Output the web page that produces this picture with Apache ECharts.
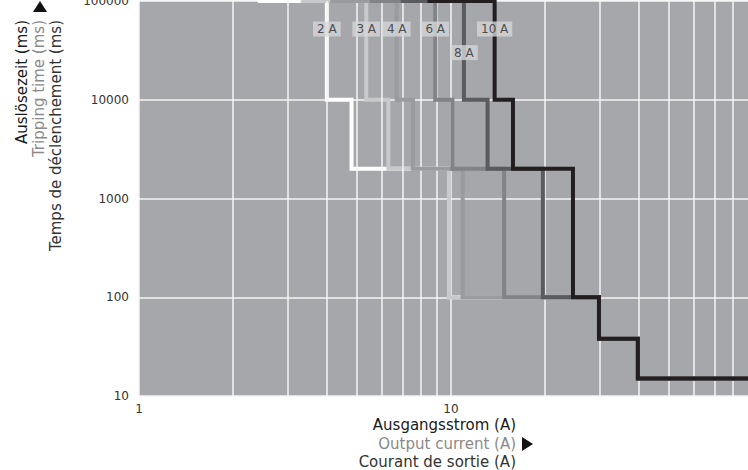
<!DOCTYPE html>
<html><head><meta charset="utf-8">
<script src="https://cdn.jsdelivr.net/npm/echarts@6/dist/echarts.min.js"></script>
<style>html,body{margin:0;padding:0;background:#fff}#c{width:748px;height:470px}</style>
</head><body><div id="c"></div>
<script>
// ---- data ----
const ratings = ['2 A', '3 A', '4 A', '6 A', '8 A', '10 A'];
const lineColors = ['#ffffff', '#c8c9cb', '#9a9b9e', '#828386', '#5a5b5e', '#231f20'];
const startCurrent = [2.4, 3.3, 4.1, 5.5, 6.9, 8.4];     // A, where each curve enters at 100000 ms
const drop100s = [4.0, 5.35, 6.7, 8.9, 11.0, 13.8];      // A, step 100000 ms -> 10000 ms
const drop10s = [4.8, 6.3, 7.55, 10.1, 13.1, 15.8];      // A, step 10000 ms -> 2000 ms
const drop2s = [9.85, 9.85, 10.9, 14.8, 19.7, 24.6];     // A, step 2000 ms -> 100 ms
const drop100ms = [29.8, 29.8, 29.8, 29.8, 29.8, 29.8];  // A, step 100 ms -> 38 ms
const drop38ms = [39.7, 39.7, 39.7, 39.7, 39.7, 39.7];   // A, step 38 ms -> 15 ms
const endCurrent = 100;
const timeLevels = [100000, 10000, 2000, 100, 38, 15];   // ms
const labelTime = [52000, 52000, 52000, 52000, 30000, 52000];
const minorGrid = [2, 3, 4, 5, 6, 7, 8, 9, 20, 30, 40, 50, 60, 70, 80, 90];

const FONT = 'DejaVu Sans';

const curveSeries = ratings.map((name, i) => ({
  type: 'line',
  name: name,
  step: 'end',
  symbol: 'none',
  z: 3 + i,
  lineStyle: { color: lineColors[i], width: 4, join: 'miter', cap: 'butt' },
  data: [
    [startCurrent[i], timeLevels[0]],
    [drop100s[i], timeLevels[1]],
    [drop10s[i], timeLevels[2]],
    [drop2s[i], timeLevels[3]],
    [drop100ms[i], timeLevels[4]],
    [drop38ms[i], timeLevels[5]],
    [endCurrent, timeLevels[5]]
  ]
}));

const chart = echarts.init(document.getElementById('c'), null, { renderer: 'svg' });
chart.setOption({
  animation: false,
  backgroundColor: '#ffffff',
  grid: { left: 139, top: 1, width: 624, height: 395, outerBoundsMode: 'none', containLabel: false, show: true, backgroundColor: '#a6a7aa', borderWidth: 0 },
  xAxis: {
    type: 'log', logBase: 10, min: 1, max: 100,
    axisLine: { show: false }, axisTick: { show: false },
    axisLabel: { color: '#333', fontFamily: FONT, fontSize: 12, margin: 7, formatter: v => String(v) },
    splitLine: { show: true, lineStyle: { color: '#f4f4f4', width: 1.5 } }
  },
  yAxis: {
    type: 'log', logBase: 10, min: 10, max: 100000,
    axisLine: { show: false }, axisTick: { show: false },
    axisLabel: { color: '#333', fontFamily: FONT, fontSize: 12, margin: 10, formatter: v => String(v) },
    splitLine: { show: true, lineStyle: { color: '#f4f4f4', width: 1.5 } }
  },
  series: [
    {
      type: 'line', data: [], z: 1, silent: true,
      markLine: {
        silent: true, symbol: 'none', animation: false,
        label: { show: false },
        lineStyle: { color: '#f4f4f4', width: 1.5, type: 'solid' },
        data: minorGrid.map(v => ({ xAxis: v }))
      }
    },
    ...curveSeries,
    {
      type: 'scatter', z: 20, symbolSize: 2, silent: true,
      itemStyle: { color: 'rgba(0,0,0,0)' },
      data: ratings.map((r, i) => [drop100s[i], labelTime[i], r]),
      label: {
        show: true, position: 'inside', formatter: p => p.data[2],
        color: '#2a2a2a', fontFamily: FONT, fontSize: 12,
        backgroundColor: '#d5d6d8', padding: [2, 4, 1, 4]
      },
      labelLayout: { hideOverlap: false }
    }
  ],
  graphic: [
    { type: 'polygon', shape: { points: [[40, 1], [47, 12], [33, 12]] }, style: { fill: '#111' } },
    { type: 'text', x: 22, y: 20, rotation: Math.PI / 2, style: { text: 'Auslösezeit (ms)', fill: '#1a1a1a', font: '15px ' + FONT, align: 'right', verticalAlign: 'middle' } },
    { type: 'text', x: 39, y: 20, rotation: Math.PI / 2, style: { text: 'Tripping time (ms)', fill: '#8a8a8a', font: '15px ' + FONT, align: 'right', verticalAlign: 'middle' } },
    { type: 'text', x: 56, y: 20, rotation: Math.PI / 2, style: { text: 'Temps de déclenchement (ms)', fill: '#333', font: '15px ' + FONT, align: 'right', verticalAlign: 'middle' } },
    { type: 'text', x: 516, y: 425, style: { text: 'Ausgangsstrom (A)', fill: '#1a1a1a', font: '15px ' + FONT, align: 'right', verticalAlign: 'middle' } },
    { type: 'text', x: 516, y: 444, style: { text: 'Output current (A)', fill: '#8a8a8a', font: '15px ' + FONT, align: 'right', verticalAlign: 'middle' } },
    { type: 'text', x: 516, y: 462, style: { text: 'Courant de sortie (A)', fill: '#333', font: '15px ' + FONT, align: 'right', verticalAlign: 'middle' } },
    { type: 'polygon', shape: { points: [[522, 437], [533, 444], [522, 451]] }, style: { fill: '#111' } }
  ]
});
</script></body></html>
